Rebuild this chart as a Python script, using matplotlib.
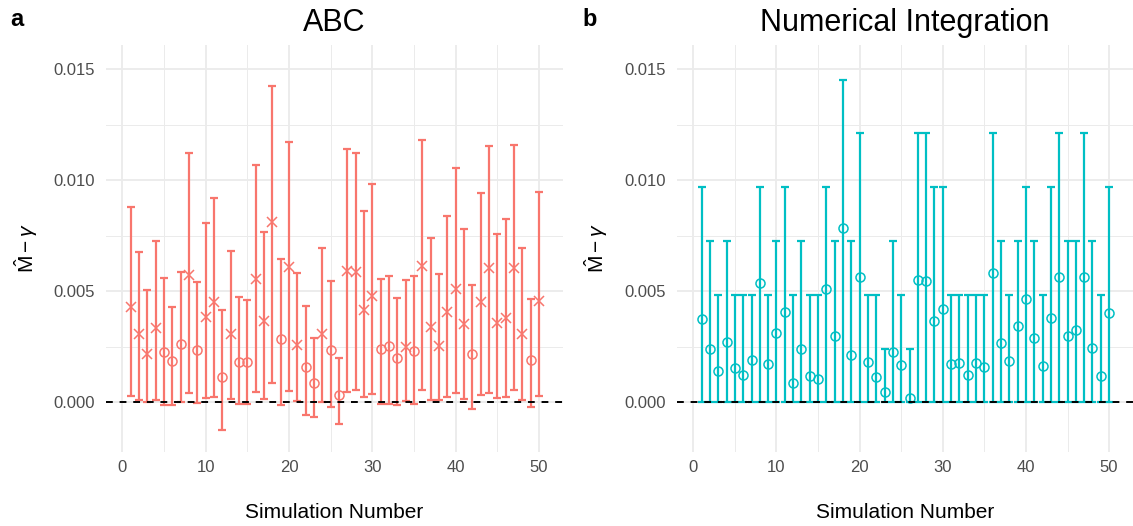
import numpy as np
import matplotlib
matplotlib.use('Agg')
import matplotlib.pyplot as plt

plt.rcParams['font.family'] = ['Liberation Sans', 'DejaVu Sans']
plt.rcParams['mathtext.fontset'] = 'custom'
plt.rcParams['mathtext.rm'] = 'Liberation Sans'
plt.rcParams['mathtext.it'] = 'Liberation Sans:italic'

sim = list(range(1, 51))

# ABC estimates with interval bounds
abc_est = [0.00428, 0.00305, 0.00215, 0.00334, 0.00225, 0.00186, 0.00260, 0.00571, 0.00236, 0.00383,
           0.00451, 0.00113, 0.00308, 0.00180, 0.00183, 0.00555, 0.00365, 0.00812, 0.00286, 0.00609,
           0.00259, 0.00158, 0.00086, 0.00305, 0.00236, 0.00033, 0.00591, 0.00585, 0.00413, 0.00478,
           0.00238, 0.00253, 0.00198, 0.00248, 0.00230, 0.00615, 0.00338, 0.00253, 0.00406, 0.00510,
           0.00353, 0.00219, 0.00450, 0.00606, 0.00356, 0.00379, 0.00606, 0.00305, 0.00188, 0.00456]
abc_low = [0.00026, 0.00008, 0.00002, 0.00010, -0.00015, -0.00015, 0.00000, 0.00040, -0.00005, 0.00020,
           0.00023, -0.00128, 0.00015, -0.00008, -0.00008, 0.00045, 0.00014, 0.00086, -0.00015, 0.00050,
           0.00005, -0.00057, -0.00068, 0.00002, -0.00020, -0.00100, 0.00045, 0.00053, 0.00023, 0.00038,
           -0.00008, -0.00008, -0.00012, 0.00003, -0.00008, 0.00053, 0.00010, 0.00008, 0.00023, 0.00042,
           0.00012, -0.00033, 0.00033, 0.00040, 0.00020, 0.00023, 0.00053, 0.00008, -0.00020, 0.00026]
abc_up = [0.00879, 0.00677, 0.00504, 0.00726, 0.00561, 0.00431, 0.00588, 0.01123, 0.00540, 0.00807,
          0.00920, 0.00416, 0.00681, 0.00474, 0.00462, 0.01070, 0.00767, 0.01424, 0.00643, 0.01171,
          0.00582, 0.00434, 0.00289, 0.00695, 0.00546, 0.00198, 0.01143, 0.01123, 0.00863, 0.00985,
          0.00556, 0.00567, 0.00469, 0.00552, 0.00567, 0.01183, 0.00738, 0.00577, 0.00839, 0.01055,
          0.00780, 0.00529, 0.00943, 0.01153, 0.00759, 0.00824, 0.01158, 0.00693, 0.00463, 0.00947]
abc_shape = "xxxxoooxox" "xoxooxxxox" "xooxooxxxx" "oooxoxxxxx" "xoxxxxxxox"

# Numerical integration estimates
ni_est = [0.00376, 0.00238, 0.00141, 0.00271, 0.00152, 0.00122, 0.00191, 0.00538, 0.00171, 0.00313,
          0.00404, 0.00087, 0.00238, 0.00116, 0.00105, 0.00511, 0.00298, 0.00786, 0.00213, 0.00562,
          0.00182, 0.00114, 0.00047, 0.00225, 0.00167, 0.00018, 0.00552, 0.00547, 0.00365, 0.00419,
          0.00173, 0.00177, 0.00123, 0.00176, 0.00156, 0.00580, 0.00268, 0.00186, 0.00343, 0.00465,
          0.00290, 0.00161, 0.00379, 0.00562, 0.00296, 0.00323, 0.00562, 0.00244, 0.00119, 0.00403]
ni_low = [0.0] * 50
ni_up = [0.00968, 0.00725, 0.00481, 0.00725, 0.00481, 0.00481, 0.00481, 0.00968, 0.00481, 0.00725,
         0.00968, 0.00481, 0.00725, 0.00481, 0.00481, 0.00968, 0.00725, 0.01454, 0.00725, 0.01212,
         0.00481, 0.00481, 0.00240, 0.00725, 0.00481, 0.00240, 0.01212, 0.01212, 0.00968, 0.00968,
         0.00481, 0.00481, 0.00481, 0.00481, 0.00481, 0.01212, 0.00725, 0.00481, 0.00725, 0.00968,
         0.00725, 0.00481, 0.00968, 0.01212, 0.00725, 0.00725, 0.01212, 0.00725, 0.00481, 0.00968]
ni_shape = "o" * 50

red = '#F8766D'
cyan = '#00BFC4'
grid_col = '#EBEBEB'
tick_col = '#4D4D4D'

fig = plt.figure(figsize=(11.33, 5.26), dpi=100)
ax1 = fig.add_axes([106 / 1133, 1 - 452 / 526, 457 / 1133, 407 / 526])
ax2 = fig.add_axes([677 / 1133, 1 - 452 / 526, 456 / 1133, 407 / 526])


def panel(ax, est, low, up, shape, color, title):
    x = np.array(sim)
    est = np.array(est)
    low = np.array(low)
    up = np.array(up)
    ax.errorbar(x, est, yerr=[est - low, up - est], fmt='none', ecolor=color,
                elinewidth=1.6, capsize=3.2, capthick=1.6, zorder=3)
    for m in ['x', 'o']:
        sel = np.array([s == m for s in shape])
        if sel.any():
            ax.plot(x[sel], est[sel], linestyle='none', marker=m, markersize=6.5 if m == 'o' else 6.5,
                    markerfacecolor='none', markeredgecolor=color, markeredgewidth=1.1, zorder=4)
    ax.axhline(0, color='black', linestyle=(0, (3.5, 3.5)), linewidth=1.4, zorder=5)

    ax.set_xlim(-1.96, 52.87)
    ax.set_ylim(-0.00225, 0.0161)
    ax.set_xticks([0, 10, 20, 30, 40, 50])
    ax.set_xticks([5, 15, 25, 35, 45], minor=True)
    ax.set_yticks([0.0, 0.005, 0.010, 0.015])
    ax.set_yticklabels(['0.000', '0.005', '0.010', '0.015'])
    ax.set_yticks([0.0025, 0.0075, 0.0125], minor=True)
    ax.grid(which='major', color=grid_col, linewidth=1.3)
    ax.grid(which='minor', color=grid_col, linewidth=0.7)
    ax.set_axisbelow(True)
    for s in ax.spines.values():
        s.set_visible(False)
    ax.tick_params(which='both', length=0, labelsize=12, labelcolor=tick_col)
    ax.tick_params(axis='y', pad=8)
    ax.tick_params(axis='x', pad=6)
    ax.set_xlabel('Simulation Number', fontsize=15, labelpad=20)
    ax.set_ylabel(r'$\hat{\mathrm{M}} - \gamma$', fontsize=15, labelpad=10)
    ax.set_title(title, fontsize=22, pad=10)


panel(ax1, abc_est, abc_low, abc_up, abc_shape, red, 'ABC')
panel(ax2, ni_est, ni_low, ni_up, ni_shape, cyan, 'Numerical Integration')

fig.text(10 / 1133, 1 - 20 / 526, 'a', fontsize=17, fontweight='bold', va='center')
fig.text(582 / 1133, 1 - 20 / 526, 'b', fontsize=17, fontweight='bold', va='center')

fig.savefig('out.png', dpi=100)
